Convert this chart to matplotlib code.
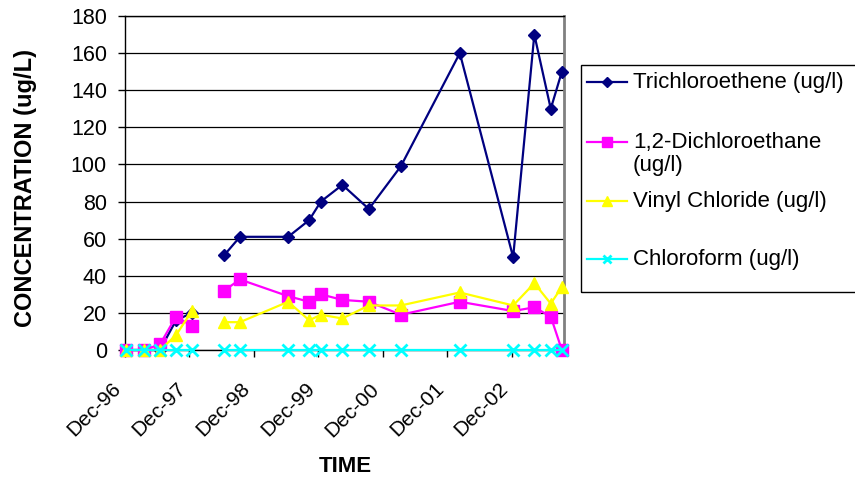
import datetime as dt
import numpy as np
import matplotlib
matplotlib.use("Agg")
import matplotlib.pyplot as plt
import matplotlib.dates as mdates
from matplotlib.lines import Line2D
from matplotlib.patches import Rectangle

plt.rcParams['font.family'] = ['Liberation Sans', 'DejaVu Sans']

# sampling dates (the Mar-98 round has no results, so the lines break there)
dates = [dt.datetime(1996, 12, 6), dt.datetime(1997, 3, 18), dt.datetime(1997, 6, 17),
         dt.datetime(1997, 9, 16), dt.datetime(1997, 12, 15), dt.datetime(1998, 3, 15),
         dt.datetime(1998, 6, 15), dt.datetime(1998, 9, 13), dt.datetime(1999, 6, 13),
         dt.datetime(1999, 10, 10), dt.datetime(1999, 12, 15), dt.datetime(2000, 4, 15),
         dt.datetime(2000, 9, 12), dt.datetime(2001, 3, 12), dt.datetime(2002, 2, 9),
         dt.datetime(2002, 12, 8), dt.datetime(2003, 4, 7), dt.datetime(2003, 7, 9),
         dt.datetime(2003, 9, 10)]
nan = np.nan
tce = [0, 0, 0, 16, 20, nan, 51, 61, 61, 70, 80, 89, 76, 99, 160, 50, 170, 130, 150]
dca = [0, 0, 3, 18, 13, nan, 32, 38, 29, 26, 30, 27, 26, 19, 26, 21, 23, 18, 0]
vc = [0, 0, 0, 8, 21, nan, 15, 15, 26, 16, 19, 17, 24, 24, 31, 24, 36, 25, 34]
chcl3 = [0, 0, 0, 0, 0, nan, 0, 0, 0, 0, 0, 0, 0, 0, 0, 0, 0, 0, 0]

labels = ['Trichloroethene (ug/l)', '1,2-Dichloroethane\n(ug/l)',
          'Vinyl Chloride (ug/l)', 'Chloroform (ug/l)']
colors = ['#000080', '#FF00FF', '#FFFF00', '#00FFFF']
markers = ['D', 's', '^', 'x']
msizes = [6.5, 9, 9, 8]

W, H = 855, 482
def fx(x):
    return x / W
def fy(y):
    return 1 - y / H

fig = plt.figure(figsize=(W / 100, H / 100), dpi=100)
ax = fig.add_axes([fx(125), fy(350), (564 - 125) / W, (350 - 16) / H])

for vals, c, m, ms in zip([tce, dca, vc, chcl3], colors, markers, msizes):
    ax.plot(dates, vals, color=c, lw=1.6, marker=m, ms=ms, mew=2 if m == 'x' else 1,
            mfc=c, mec=c, clip_on=False, zorder=3)

ax.set_ylim(0, 180)
ax.set_yticks(range(0, 181, 20))
ax.set_xlim(dt.datetime(1996, 12, 1), dt.datetime(2003, 9, 22))
ax.xaxis.set_major_locator(mdates.MonthLocator(bymonth=12, bymonthday=1))
ax.xaxis.set_major_formatter(mdates.DateFormatter('%b-%y'))
ax.grid(axis='y', color='black', lw=0.9)
ax.set_axisbelow(True)

ax.tick_params(axis='y', labelsize=15.5, length=5, width=1, pad=8, direction='out')
ax.tick_params(axis='x', labelsize=15, length=5, width=1, pad=16, direction='out')
for lab in ax.get_xticklabels():
    lab.set_rotation(45)
    lab.set_ha('right')

for s in ['left', 'bottom', 'top']:
    ax.spines[s].set_color('black')
    ax.spines[s].set_linewidth(1)
ax.spines['right'].set_color('#808080')
ax.spines['right'].set_linewidth(2)

fig.text(fx(26), fy(188), 'CONCENTRATION (ug/L)', rotation=90, ha='center', va='center',
         fontsize=17, fontweight='bold')
fig.text(fx(345), fy(467), 'TIME', ha='center', va='center', fontsize=16, fontweight='bold')

# legend box, drawn by hand so the wrapped entry keeps its marker on the first line
fig.add_artist(Rectangle((fx(581), fy(292)), fx(300), (292 - 65) / H, transform=fig.transFigure,
                         fill=False, edgecolor='black', lw=1))
marker_y = [82, 142, 201, 259]
text_y = [82, 154, 201, 259]
for lab, c, m, ms, my, ty in zip(labels, colors, markers, msizes, marker_y, text_y):
    fig.add_artist(Line2D([fx(587), fx(627)], [fy(my), fy(my)], transform=fig.transFigure,
                          color=c, lw=1.6))
    fig.add_artist(Line2D([fx(607)], [fy(my)], transform=fig.transFigure, color=c,
                          marker=m, ms=ms * 0.8, mew=2 if m == 'x' else 1, mfc=c, mec=c))
    fig.text(fx(633), fy(ty), lab, ha='left', va='center', fontsize=16, linespacing=1.15)

fig.savefig('out.png', dpi=100)
